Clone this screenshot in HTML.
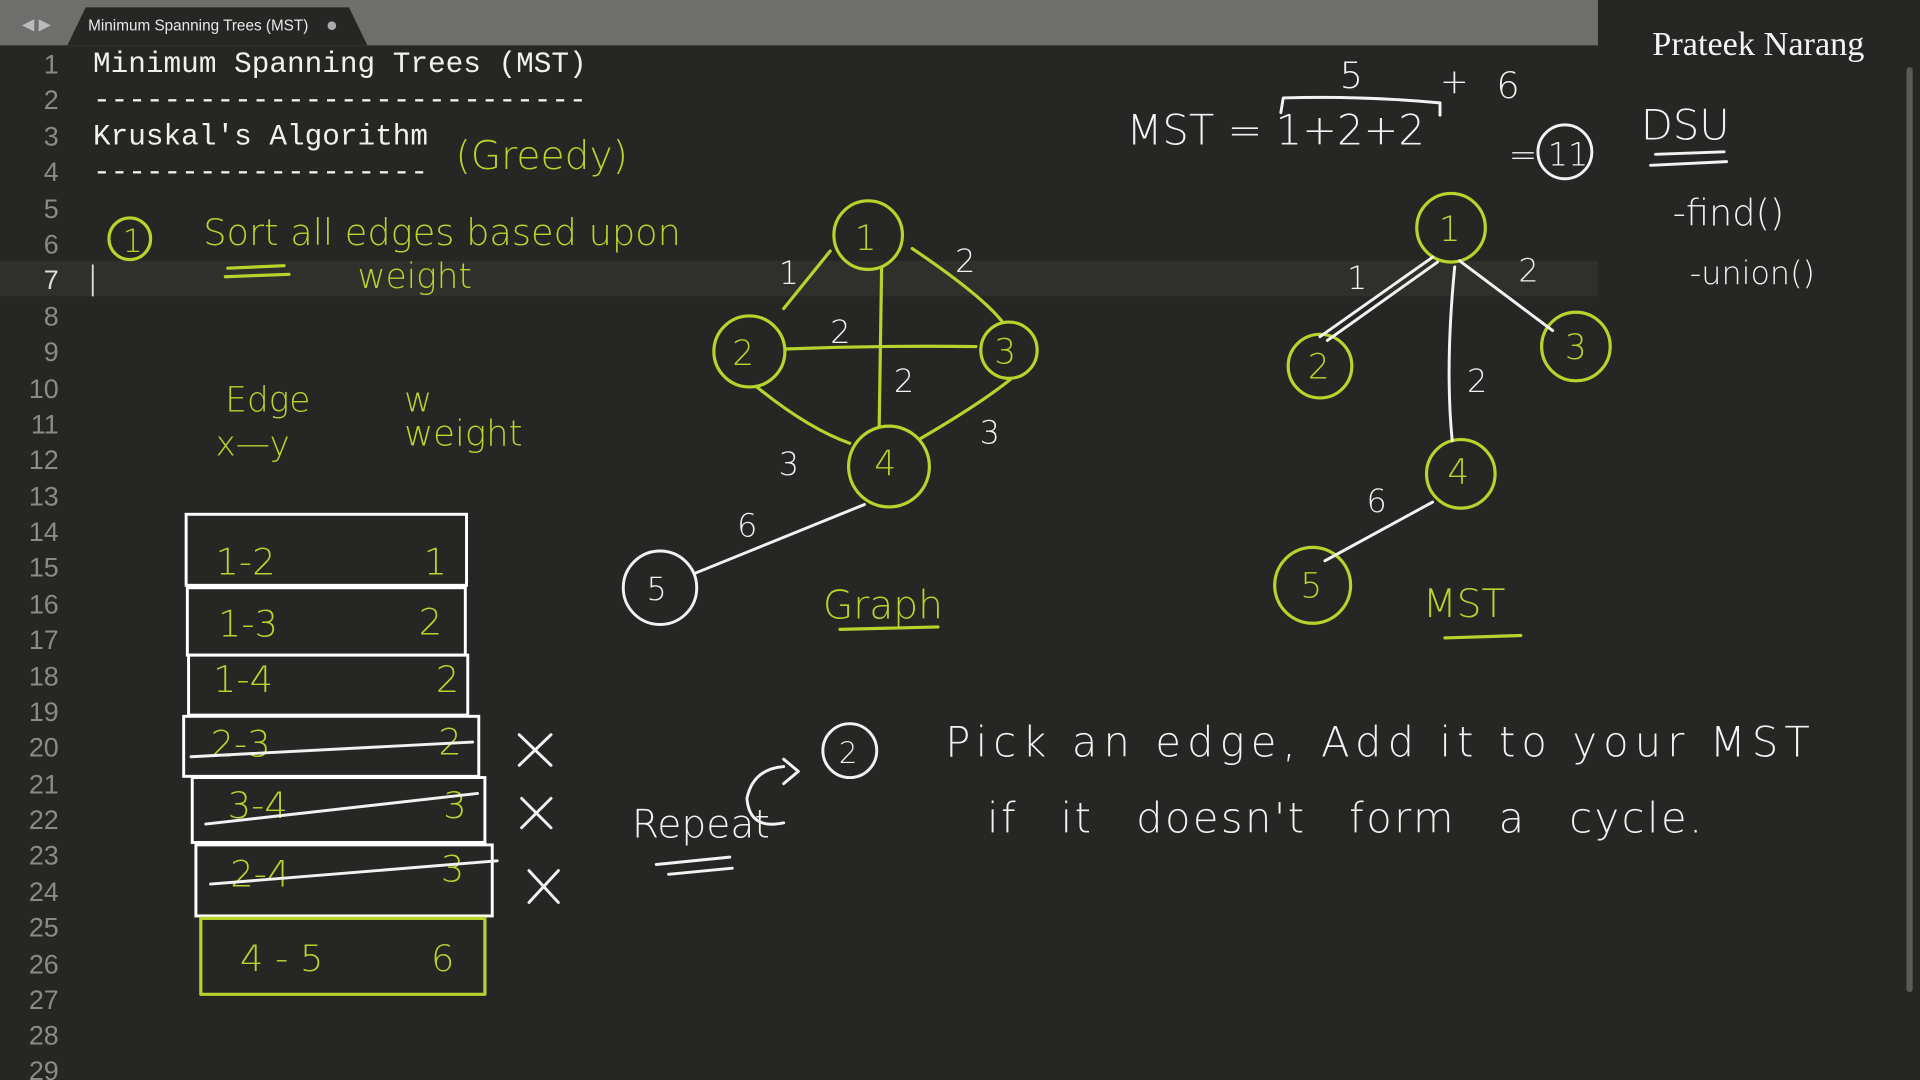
<!DOCTYPE html>
<html><head><meta charset="utf-8"><style>
html,body{margin:0;padding:0;background:#262624;overflow:hidden}
svg{display:block}
.ln{font-family:"Liberation Sans",sans-serif;font-size:22px;fill:#8a8a86;text-anchor:end}
.code{font-family:"Liberation Mono",monospace;font-size:24px;fill:#f0f0ec}
.g{fill:none;stroke:#b5d42c;stroke-width:2.6;stroke-linecap:round;stroke-linejoin:round}
.w{fill:none;stroke:#f2f2f2;stroke-width:2.4;stroke-linecap:round;stroke-linejoin:round}
.gt{font-family:"DejaVu Sans","Liberation Sans",sans-serif;fill:#b5d42c;font-weight:300}
.wt{font-family:"DejaVu Sans","Liberation Sans",sans-serif;fill:#f2f2f2;font-weight:300}
</style></head><body>
<svg width="1920" height="1080" viewBox="0 0 1568 882" xmlns="http://www.w3.org/2000/svg">
<rect width="1568" height="882" fill="#262624"/>
<rect x="0" y="0" width="1305" height="37" fill="#6e6e6c"/>
<path d="M55 37 L70 6 L285 6 L300 37 Z" fill="#262624"/>
<text x="18" y="24" font-family="Liberation Sans" font-size="13" fill="#bbb">◀ ▶</text>
<text x="72" y="25" font-family="Liberation Sans,sans-serif" font-size="12.5" fill="#e8e8e8">Minimum Spanning Trees (MST)</text>
<circle cx="271" cy="21" r="3.5" fill="#aaa"/>
<rect x="0" y="213" width="1305" height="29" fill="#2f2f2c"/>
<rect x="1557" y="55" width="5" height="755" rx="2" fill="#5a5a58"/>
<text x="1436" y="45" text-anchor="middle" font-family="Liberation Serif,serif" font-size="28" fill="#f4f4f4">Prateek Narang</text>
<g class="ln">
<text x="48" y="60">1</text><text x="48" y="89">2</text><text x="48" y="119">3</text><text x="48" y="148">4</text>
<text x="48" y="178">5</text><text x="48" y="207">6</text><text x="48" y="236" fill="#ddd">7</text><text x="48" y="266">8</text>
<text x="48" y="295">9</text><text x="48" y="325">10</text><text x="48" y="354">11</text><text x="48" y="383">12</text>
<text x="48" y="413">13</text><text x="48" y="442">14</text><text x="48" y="471">15</text><text x="48" y="501">16</text>
<text x="48" y="530">17</text><text x="48" y="560">18</text><text x="48" y="589">19</text><text x="48" y="618">20</text>
<text x="48" y="648">21</text><text x="48" y="677">22</text><text x="48" y="706">23</text><text x="48" y="736">24</text>
<text x="48" y="765">25</text><text x="48" y="795">26</text><text x="48" y="824">27</text><text x="48" y="853">28</text>
<text x="48" y="882">29</text></g>
<g class="code">
<text x="76" y="59">Minimum Spanning Trees (MST)</text>
<text x="76" y="88">----------------------------</text>
<text x="76" y="118">Kruskal's Algorithm</text>
<text x="76" y="147">-------------------</text></g>
<rect x="75" y="216" width="1.5" height="26" fill="#ddd"/>
<text class="gt" x="372" y="138" font-size="32">(Greedy)</text>
<circle class="g" cx="106" cy="195" r="17"/><text class="gt" x="100" y="206" font-size="26">1</text>
<text class="gt" x="166" y="200" font-size="30">Sort all edges based upon</text>
<text class="gt" x="292" y="235" font-size="28">weight</text>
<path class="g" d="M186 219 L232 217 M184 226 L236 224"/>
<text class="gt" x="184" y="336" font-size="28">Edge</text><text class="gt" x="330" y="336" font-size="28">w</text>
<text class="gt" x="176" y="372" font-size="28">x—y</text><text class="gt" x="330" y="364" font-size="29">weight</text>
<g stroke="#fff" stroke-width="2.4" fill="none">
<rect x="152" y="420" width="229" height="58"/><rect x="153" y="480" width="227" height="55"/>
<rect x="154" y="535" width="228" height="49"/><rect x="150" y="585" width="241" height="49"/>
<rect x="157" y="635" width="239" height="53"/><rect x="160" y="690" width="242" height="58"/></g>
<rect class="g" x="164" y="750" width="232" height="62"/>
<g class="gt" font-size="30">
<text x="176" y="469">1-2</text><text x="346" y="469">1</text>
<text x="178" y="520">1-3</text><text x="342" y="518">2</text>
<text x="174" y="565">1-4</text><text x="356" y="565">2</text>
<text x="172" y="618">2-3</text><text x="358" y="616">2</text>
<text x="186" y="668">3-4</text><text x="362" y="668">3</text>
<text x="188" y="724">2-4</text><text x="360" y="720">3</text>
<text x="196" y="793">4 - 5</text><text x="352" y="793">6</text></g>
<path class="w" d="M156 618 L386 606 M168 673 Q280 660 390 648 M172 722 L406 703"/>
<path class="w" d="M424 600 L450 625 M450 600 L424 625 M426 652 L450 676 M450 652 L426 676 M432 711 L456 737 M456 711 L432 737"/>
<g class="g">
<circle cx="709" cy="192" r="28"/><circle cx="612" cy="287" r="29"/><circle cx="824" cy="286" r="23"/>
<circle cx="726" cy="381" r="33"/>
<path d="M640 252 L678 205 M745 203 Q800 240 818 262 M641 285 Q720 282 797 283 M720 218 L718 348 M618 316 Q660 350 694 362 M752 358 Q800 330 825 310"/>
</g>
<circle class="w" cx="539" cy="480" r="30"/><path class="w" d="M568 468 L706 412"/>
<g class="gt" font-size="28">
<text x="698" y="204">1</text><text x="598" y="298">2</text><text x="812" y="297">3</text><text x="714" y="388">4</text></g>
<g class="wt" font-size="26">
<text x="528" y="490">5</text><text x="636" y="232">1</text><text x="780" y="222">2</text><text x="678" y="280">2</text>
<text x="730" y="320">2</text><text x="636" y="388">3</text><text x="800" y="362">3</text><text x="602" y="438">6</text></g>
<text class="gt" x="672" y="505" font-size="32">Graph</text><path class="g" d="M686 514 L766 512"/>
<text class="wt" x="920" y="118" font-size="34">MST = 1+2+2</text>
<path class="w" d="M1046 92 L1048 80 Q1110 78 1176 84 L1176 94"/>
<text class="wt" x="1094" y="72" font-size="30">5</text><text class="wt" x="1176" y="76" font-size="28">+</text><text class="wt" x="1222" y="80" font-size="30">6</text>
<text class="wt" x="1232" y="136" font-size="28">=</text><circle class="w" cx="1278" cy="124" r="22"/><text class="wt" x="1264" y="135" font-size="26">11</text>
<text class="wt" x="1340" y="114" font-size="34">DSU</text><path class="w" d="M1352 126 L1408 124 M1348 135 L1410 132"/>
<text class="wt" x="1366" y="184" font-size="30">-find()</text><text class="wt" x="1380" y="232" font-size="26">-union()</text>
<g class="g"><circle cx="1185" cy="186" r="28"/><circle cx="1078" cy="299" r="26"/><circle cx="1287" cy="283" r="28"/>
<circle cx="1193" cy="387" r="28"/><circle cx="1072" cy="478" r="31"/></g>
<g class="gt" font-size="28"><text x="1175" y="197">1</text><text x="1068" y="309">2</text><text x="1278" y="293">3</text><text x="1182" y="395">4</text><text x="1062" y="488">5</text></g>
<path class="w" d="M1170 210 L1078 275 M1174 214 L1084 278 M1192 213 L1268 270 M1188 218 Q1180 300 1186 360 M1170 410 L1082 458"/>
<g class="wt" font-size="26"><text x="1100" y="236">1</text><text x="1240" y="230">2</text><text x="1198" y="320">2</text><text x="1116" y="418">6</text></g>
<text class="gt" x="1162" y="504" font-size="32">MST</text><path class="g" d="M1180 521 L1242 519"/>
<text class="wt" x="516" y="684" font-size="32">Repeat</text><path class="w" d="M536 706 L596 700 M546 714 L598 709 M640 626 Q615 628 610 652 Q612 678 640 672 M640 620 L652 630 L640 640"/>
<circle class="w" cx="694" cy="613" r="22"/><text class="wt" x="685" y="623" font-size="24">2</text>
<text class="wt" x="772" y="618" font-size="34" letter-spacing="5">Pick an edge, Add it to your MST</text>
<text class="wt" x="806" y="680" font-size="34" word-spacing="22" letter-spacing="2">if it doesn't form a cycle.</text>
</svg>
</body></html>
